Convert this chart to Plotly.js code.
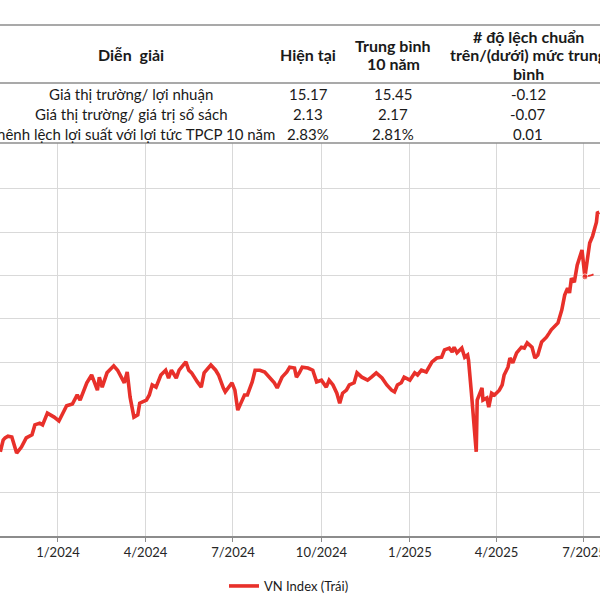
<!DOCTYPE html>
<html>
<head>
<meta charset="utf-8">
<script src="https://cdn.plot.ly/plotly-3.0.1.min.js"></script>
<style>html,body{margin:0;padding:0;background:#fff;}#chart{width:600px;height:600px;}</style>
</head>
<body>
<div id="chart"></div>
<script>
// ---- Table data ----
const tableHeaders = ['Diễn  giải', 'Hiện tại', 'Trung bình<br>10 năm', '# độ lệch chuẩn<br>trên/(dưới) mức trung<br>bình'];
const rowLabels = ['Giá thị trường/ lợi nhuận', 'Giá thị trường/ giá trị sổ sách', 'Chênh lệch lợi suất với lợi tức TPCP 10 năm'];
const currentValues = ['15.17', '2.13', '2.83%'];
const avg10Values = ['15.45', '2.17', '2.81%'];
const stdDevValues = ['-0.12', '-0.07', '0.01'];

// ---- Chart data ----
const seriesName = 'VN Index (Trái)';
const dates = [
 '2023-11-02','2023-11-05','2023-11-07','2023-11-10','2023-11-14','2023-11-17','2023-11-19','2023-11-24','2023-11-29',
 '2023-12-05','2023-12-08','2023-12-13','2023-12-16','2023-12-21','2023-12-25','2023-12-28',
 '2024-01-02','2024-01-06','2024-01-10','2024-01-16','2024-01-21','2024-01-24','2024-01-31',
 '2024-02-05','2024-02-08','2024-02-11','2024-02-13','2024-02-16','2024-02-21','2024-02-24','2024-02-28',
 '2024-03-03','2024-03-08','2024-03-10','2024-03-13','2024-03-16','2024-03-20','2024-03-24','2024-03-26',
 '2024-04-02','2024-04-05','2024-04-08','2024-04-12','2024-04-17','2024-04-22','2024-04-25','2024-04-28',
 '2024-05-03','2024-05-06','2024-05-13','2024-05-16','2024-05-19','2024-05-25','2024-05-29',
 '2024-06-01','2024-06-08','2024-06-13','2024-06-16','2024-06-21','2024-06-23','2024-06-30',
 '2024-07-03','2024-07-06','2024-07-10','2024-07-13','2024-07-16','2024-07-21','2024-07-24','2024-07-29',
 '2024-08-03','2024-08-08','2024-08-13','2024-08-16','2024-08-21','2024-08-26','2024-08-29',
 '2024-09-03','2024-09-05','2024-09-08','2024-09-11','2024-09-17','2024-09-22','2024-09-26',
 '2024-10-01','2024-10-06','2024-10-09','2024-10-13','2024-10-17','2024-10-20','2024-10-23','2024-10-27','2024-10-30',
 '2024-11-04','2024-11-07','2024-11-12','2024-11-18','2024-11-22','2024-11-27',
 '2024-12-03','2024-12-08','2024-12-13','2024-12-16','2024-12-19','2024-12-23','2024-12-26',
 '2025-01-01','2025-01-06','2025-01-09','2025-01-13','2025-01-18','2025-01-24','2025-01-29',
 '2025-02-03','2025-02-06','2025-02-11','2025-02-14','2025-02-16','2025-02-19','2025-02-24','2025-02-27',
 '2025-03-02','2025-03-03','2025-03-06','2025-03-09','2025-03-11','2025-03-12','2025-03-17','2025-03-18','2025-03-22','2025-03-24','2025-03-27','2025-03-30',
 '2025-04-04','2025-04-07','2025-04-09','2025-04-13','2025-04-15','2025-04-18','2025-04-22','2025-04-27','2025-04-30',
 '2025-05-03','2025-05-08','2025-05-11','2025-05-14','2025-05-18','2025-05-23','2025-05-26','2025-05-28',
 '2025-06-04','2025-06-08','2025-06-11','2025-06-14','2025-06-16','2025-06-18','2025-06-21','2025-06-24','2025-06-29',
 '2025-07-02','2025-07-07','2025-07-10','2025-07-14','2025-07-15','2025-07-17'
];
const vnIndex = [
 1094,1121,1126,1130,1128,1103,1091,1105,1126,
 1133,1156,1160,1156,1183,1179,1174,
 1165,1183,1200,1204,1225,1213,1253,
 1271,1253,1236,1266,1243,1276,1282,1292,
 1282,1259,1253,1278,1220,1174,1179,1206,
 1213,1225,1248,1243,1271,1282,1264,1282,
 1264,1282,1301,1282,1276,1255,1243,
 1276,1294,1282,1271,1241,1232,1253,
 1236,1190,1213,1225,1225,1255,1282,1282,
 1278,1264,1253,1241,1266,1278,1289,
 1287,1266,1276,1289,1287,1282,1255,
 1259,1243,1259,1248,1229,1206,1229,1236,1248,
 1253,1276,1266,1259,1266,1276,
 1264,1248,1236,1232,1248,1253,1266,
 1259,1276,1271,1282,1278,1301,1310,
 1312,1329,1333,1324,1335,1322,1333,1312,
 1317,1305,1229,1151,1094,1213,1241,1213,1218,1197,1229,1225,
 1236,1248,1271,1289,1310,1299,1322,1335,1333,
 1345,1335,1310,1317,1347,1358,1368,1375,
 1391,1421,1455,1471,1460,1494,1485,1524,1559,
 1497,1575,1591,1623,1644,1646
];
// dashed segment at the right edge
const dashDates = ['2025-07-02', '2025-07-09', '2025-07-17'];
const dashValues = [1497, 1501, 1508];

const tickDates = ['2024-01-01','2024-04-01','2024-07-01','2024-10-01','2025-01-01','2025-04-01','2025-07-01'];
const tickLabels = ['1/2024','4/2024','7/2024','10/2024','1/2025','4/2025','7/2025'];
const gridValues = [1000,1100,1200,1300,1400,1500,1600,1700];

// ---- Layout helpers (pixels -> paper, margins are 0) ----
const W = 600, H = 600;
const px = x => x / W;
const py = y => 1 - y / H;
const FONT = 'Lato, "Open Sans", sans-serif';
const RED = '#e8302a';
const TXT = '#1a1a1a';

const annotations = [];
const colX = [131, 308, 393, 528];
const headerCenterY = 54.5, headerLineGap = 18.5;
tableHeaders.forEach((h, i) => {
  const lines = h.split('<br>');
  lines.forEach((ln, k) => {
    const y = headerCenterY + (k - (lines.length - 1) / 2) * headerLineGap;
    annotations.push({xref:'paper', yref:'paper', x: px(colX[i]), y: py(y), xanchor:'center', yanchor:'middle',
      text: '<b>' + ln + '</b>', showarrow:false, align:'center', font:{family:FONT, size:16, color:TXT}});
  });
});
const rowY = [94, 114, 134];
rowLabels.forEach((r, j) => {
  const cells = [r, currentValues[j], avg10Values[j], stdDevValues[j]];
  cells.forEach((c, i) => {
    annotations.push({xref:'paper', yref:'paper', x: px(colX[i]), y: py(rowY[j]), xanchor:'center', yanchor:'middle',
      text: c, showarrow:false, font:{family:FONT, size:15, color:TXT}});
  });
});

const shapes = [25, 83, 143].map(y => ({type:'line', xref:'paper', yref:'paper', x0:0, x1:1, y0:py(y), y1:py(y),
  line:{color:'#8c8c8c', width:1.6}}));

const traces = [
  {x: dates, y: vnIndex, type:'scatter', mode:'lines', name: seriesName,
   line:{color:RED, width:3.6}},
  {x: dashDates, y: dashValues, type:'scatter', mode:'lines+markers', showlegend:false,
   line:{color:RED, width:2, dash:'dash'}, marker:{size:[6,0,0], color:RED}}
];

const layout = {
  width: W, height: H,
  margin:{l:0, r:0, t:0, b:0, autoexpand:false},
  paper_bgcolor:'#fff', plot_bgcolor:'#fff',
  showlegend:true,
  legend:{orientation:'h', x: px(224), xanchor:'left', y: py(586), yanchor:'middle',
    font:{family:FONT, size:13, color:TXT}, bgcolor:'rgba(0,0,0,0)'},
  xaxis:{type:'date', range:['2023-11-01 17:00','2025-07-17 17:00'], domain:[0,1],
    tickvals: tickDates, ticktext: tickLabels, showgrid:true, gridcolor:'#d9d9d9', gridwidth:1,
    showline:true, linecolor:'#8c8c8c', linewidth:1.5, ticks:'outside', ticklen:4, tickcolor:'#8c8c8c',
    ticklabeloverflow:'allow',
    tickfont:{family:FONT, size:13, color:'#262626'}, zeroline:false, fixedrange:true},
  yaxis:{range:[900, 1805.5], domain:[py(536), py(143)], tickvals: gridValues, showticklabels:false,
    showgrid:true, gridcolor:'#d9d9d9', gridwidth:1, zeroline:false, showline:false, ticks:''},
  annotations: annotations,
  shapes: shapes
};

Plotly.newPlot('chart', traces, layout, {displayModeBar:false, staticPlot:true});
</script>
</body>
</html>
